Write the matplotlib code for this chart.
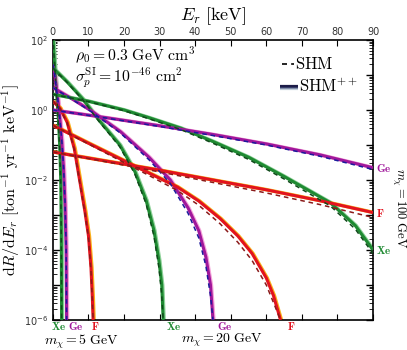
import numpy as np
import matplotlib.pyplot as plt
from matplotlib.ticker import LogLocator, FixedLocator, NullFormatter, FuncFormatter

plt.rcParams['mathtext.fontset'] = 'cm'
plt.rcParams['font.family'] = 'DejaVu Sans'

# recoil energy [keV] and log10(dR/dE)
# m_chi = 5 GeV
xe5_E = [0.0, 0.4, 0.8, 1.2, 1.5, 1.9, 2.2, 2.35, 2.45]
xe5_pp = [2.1, 1.4, 0.8, 0.25, -0.2, -1.0, -2.0, -3.5, -6.0]
xe5_shm = [2.1, 1.4, 0.78, 0.2, -0.3, -1.1, -2.2, -3.7, -6.0]
ge5_E = [0.0, 0.5, 1.0, 1.5, 2.0, 2.5, 3.0, 3.4, 3.7, 3.85]
ge5_pp = [1.3, 1.0, 0.6, 0.2, -0.3, -0.9, -1.7, -2.7, -4.0, -6.0]
ge5_shm = [1.3, 1.0, 0.6, 0.2, -0.3, -0.88, -1.65, -2.6, -3.8, -6.0]
f5_E = [0.0, 2.0, 4.0, 6.0, 7.5, 9.0, 10.0, 10.7, 11.1, 11.3]
f5_pp = [0.25, 0.05, -0.35, -1.1, -2.0, -2.9, -3.6, -4.5, -5.4, -6.0]
f5_shm = [0.25, 0.04, -0.37, -1.13, -2.05, -2.95, -3.65, -4.6, -5.5, -6.0]

# m_chi = 20 GeV
xe20_E = [0.0, 4.0, 8.4, 13.0, 18.8, 23.0, 26.2, 28.4, 29.8, 30.6, 31.0]
xe20_pp = [1.2, 0.8, 0.31, -0.3, -1.0, -1.75, -2.58, -3.44, -4.3, -5.0, -6.0]
xe20_shm = [1.2, 0.79, 0.29, -0.33, -1.05, -1.82, -2.68, -3.6, -4.5, -5.3, -6.0]
ge20_E = [0.0, 5.0, 11.0, 19.0, 27.0, 33.0, 38.0, 41.0, 43.0, 44.3, 45.0]
ge20_pp = [0.64, 0.34, -0.04, -0.62, -1.35, -2.0, -2.8, -3.45, -4.2, -5.0, -6.0]
ge20_shm = [0.64, 0.33, -0.06, -0.66, -1.42, -2.1, -2.95, -3.65, -4.45, -5.3, -6.0]
f20_E = [0.0, 10.0, 19.0, 27.0, 35.0, 41.0, 47.0, 52.0, 56.0, 60.0, 62.0, 64.0]
f20_pp = [-0.44, -0.95, -1.4, -1.8, -2.2, -2.6, -3.1, -3.6, -4.1, -4.8, -5.3, -6.0]
f20_shm = [-0.44, -0.97, -1.45, -1.87, -2.3, -2.72, -3.25, -3.78, -4.3, -5.0, -5.5, -6.0]

# m_chi = 100 GeV
xe100_E = [0.0, 10.0, 20.0, 27.0, 36.0, 45.0, 55.0, 65.0, 78.0, 85.0, 90.0]
xe100_pp = [0.45, 0.25, 0.0, -0.22, -0.52, -0.9, -1.35, -1.9, -2.65, -3.3, -4.0]
xe100_shm = [0.45, 0.24, -0.02, -0.25, -0.56, -0.95, -1.41, -1.97, -2.74, -3.4, -4.1]
ge100_E = [0.0, 15.0, 30.0, 45.0, 60.0, 75.0, 90.0]
ge100_pp = [0.0, -0.22, -0.45, -0.7, -0.97, -1.28, -1.65]
ge100_shm = [0.0, -0.23, -0.47, -0.73, -1.0, -1.32, -1.7]
f100_E = [0.0, 15.0, 30.0, 45.0, 60.0, 75.0, 90.0]
f100_pp = [-1.2, -1.46, -1.72, -2.0, -2.28, -2.59, -2.93]
f100_shm = [-1.2, -1.48, -1.77, -2.07, -2.37, -2.7, -3.07]

green, green_lt, green_dk = '#1f8a32', '#8fd29a', '#0f4a1a'
purple, purple_lt, purple_dk = '#a0179b', '#f5a0d8', '#1a1a9c'
red, red_lt, red_dk = '#e2131f', '#f9b21b', '#8a1a1a'

curves = [
    (xe5_E, xe5_pp, xe5_shm, green, green_lt, green_dk),
    (ge5_E, ge5_pp, ge5_shm, purple, purple_lt, purple_dk),
    (f5_E, f5_pp, f5_shm, red, red_lt, red_dk),
    (xe20_E, xe20_pp, xe20_shm, green, green_lt, green_dk),
    (ge20_E, ge20_pp, ge20_shm, purple, purple_lt, purple_dk),
    (f20_E, f20_pp, f20_shm, red, red_lt, red_dk),
    (xe100_E, xe100_pp, xe100_shm, green, green_lt, green_dk),
    (ge100_E, ge100_pp, ge100_shm, purple, purple_lt, purple_dk),
    (f100_E, f100_pp, f100_shm, red, red_lt, red_dk),
]

fig = plt.figure(figsize=(4.07, 3.5), dpi=100)
ax = fig.add_axes([0.130, 0.0857, 0.7865, 0.80])

for E, pp, shm, c, clt, cdk in curves:
    E = np.array(E)
    ax.plot(E + 0.25, 10 ** np.array(pp), color=clt, lw=2.6, solid_capstyle='butt', zorder=2)
    ax.plot(E, 10 ** np.array(pp), color=c, lw=2.2, solid_capstyle='butt', zorder=3)
    ax.plot(E, 10 ** np.array(shm), color=cdk, lw=1.1, ls=(0, (3, 2.5)), zorder=4)

ax.set_yscale('log')
ax.set_xlim(0, 90)
ax.set_ylim(1e-6, 1e2)

ax.xaxis.set_major_locator(FixedLocator(np.arange(0, 91, 10)))
ax.tick_params(axis='x', which='both', direction='in', top=True, bottom=True,
               labeltop=True, labelbottom=False, labelsize=7, length=4, pad=2, labelcolor='#333333')
ax.xaxis.set_label_position('top')
ax.set_xlabel(r'$E_r\ [\mathrm{keV}]$', fontsize=13, labelpad=5)

ax.yaxis.set_major_locator(LogLocator(base=10, numticks=20))
ax.yaxis.set_minor_locator(LogLocator(base=10, subs=np.arange(2, 10), numticks=20))
ax.yaxis.set_minor_formatter(NullFormatter())
ax.yaxis.set_major_formatter(FuncFormatter(
    lambda v, p: r'$\mathregular{10^{%d}}$' % round(np.log10(v)) if round(np.log10(v)) % 2 == 0 else ''))
ax.tick_params(axis='y', which='major', direction='in', left=True, right=True, labelsize=7,
               length=5, width=1, labelcolor='#333333')
ax.tick_params(axis='y', which='minor', direction='in', left=True, right=True, length=3)
ax.set_ylabel(r'$\mathrm{d}R/\mathrm{d}E_r\ [\mathrm{ton}^{-1}\ \mathrm{yr}^{-1}\ \mathrm{keV}^{-1}]$',
              fontsize=11.5, labelpad=1)
for s in ax.spines.values():
    s.set_linewidth(1.2)

ax.text(0.069, 0.946, r'$\rho_0 = 0.3\ \mathrm{GeV\ cm}^3$', transform=ax.transAxes, fontsize=11.3, va='center')
ax.text(0.069, 0.866, r'$\sigma_p^{\mathrm{SI}} = 10^{-46}\ \mathrm{cm}^2$', transform=ax.transAxes,
        fontsize=11.3, va='center')

# legend
ax.plot([0.716, 0.752], [0.914, 0.914], transform=ax.transAxes, color='k', lw=1.2, ls=(0, (3, 2.5)))
ax.text(0.755, 0.914, r'$\mathrm{SHM}$', transform=ax.transAxes, fontsize=12, va='center')
for dy, c in zip([-0.008, -0.004, 0.0, 0.004], ['#c8d4de', '#8a98b0', '#3c4470', '#1c1c48']):
    ax.plot([0.71, 0.765], [0.832 + dy, 0.832 + dy], transform=ax.transAxes, color=c, lw=1.6,
            solid_capstyle='butt')
ax.text(0.768, 0.832, r'$\mathrm{SHM}^{++}$', transform=ax.transAxes, fontsize=12, va='center')

# target labels
lab_kw = dict(fontsize=8, ha='center', va='center', transform=ax.get_xaxis_transform())
for x, t, c in [(1.7, 'Xe', green), (6.4, 'Ge', purple), (11.8, 'F', red),
                (34.0, 'Xe', green), (48.2, 'Ge', purple), (67.1, 'F', red)]:
    ax.text(x, -0.02, r'$\mathbf{%s}$' % t, color=c, **lab_kw)
ax.text(8.0, -0.077, r'$m_\chi = 5\ \mathrm{GeV}$', transform=ax.get_xaxis_transform(),
        fontsize=10, ha='center', va='center')
ax.text(47.5, -0.072, r'$m_\chi = 20\ \mathrm{GeV}$', transform=ax.get_xaxis_transform(),
        fontsize=10, ha='center', va='center')

rt = ax.get_yaxis_transform()
for v, t, c in [(ge100_pp[-1], 'Ge', purple), (f100_pp[-1], 'F', red), (xe100_pp[-1], 'Xe', green)]:
    ax.text(1.008, 10 ** v, r'$\mathbf{%s}$' % t, color=c, fontsize=8, ha='left', va='center', transform=rt)
ax.text(1.08, 0.40, r'$m_\chi = 100\ \mathrm{GeV}$', transform=ax.transAxes, rotation=-90,
        fontsize=9, ha='center', va='center')

fig.savefig('out.png', dpi=100)
